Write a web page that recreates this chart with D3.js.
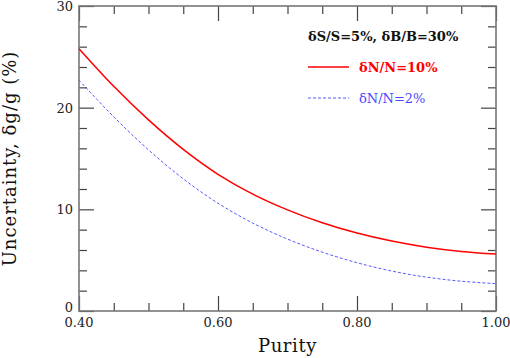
<!DOCTYPE html>
<html>
<head>
<meta charset="utf-8">
<script src="https://cdn.jsdelivr.net/npm/d3@7"></script>
<style>
  body { margin: 0; background: #fff; }
  svg { display: block; font-family: "DejaVu Serif", serif; }
</style>
</head>
<body>
<svg id="chart"></svg>
<script>
// purity values and the two uncertainty curves (percent)
const purity = [0.40, 0.45, 0.50, 0.55, 0.60, 0.65, 0.70, 0.75, 0.80, 0.85, 0.90, 0.95, 1.00];
const dN10 = [25.8, 22.1, 18.8, 15.9, 13.45, 11.5, 9.95, 8.68, 7.67, 6.88, 6.28, 5.86, 5.6];
const dN2 = [22.7, 19.1, 15.85, 13.0, 10.6, 8.65, 7.07, 5.79, 4.75, 3.93, 3.33, 2.93, 2.69];

const xMajor = [0.40, 0.60, 0.80, 1.00];
const xMinor = [0.45, 0.50, 0.55, 0.65, 0.70, 0.75, 0.85, 0.90, 0.95];
const yMajor = [0, 10, 20, 30];
const yMinor = [2, 4, 6, 8, 12, 14, 16, 18, 22, 24, 26, 28];

const width = 510, height = 358;
const margin = { top: 6, right: 14, bottom: 47, left: 79 };

const svg = d3.select("#chart").attr("width", width).attr("height", height);

const x = d3.scaleLinear().domain([0.4, 1.0]).range([margin.left, width - margin.right]);
const y = d3.scaleLinear().domain([0, 30]).range([height - margin.bottom, margin.top]);

const tickColor = "#444";

// ticks on all four sides, pointing inward
function ticks(axisFn, values, size, transform) {
  const g = svg.append("g")
    .attr("transform", transform)
    .call(axisFn.tickValues(values).tickSize(size).tickFormat(""));
  g.select(".domain").remove();
  g.selectAll("line").attr("stroke", tickColor).attr("stroke-width", 1.2);
}
const bottomY = y(0), topY = y(30), leftX = x(0.4), rightX = x(1.0);
ticks(d3.axisBottom(x), xMajor, -15, `translate(0,${bottomY})`);
ticks(d3.axisBottom(x), xMinor, -8, `translate(0,${bottomY})`);
ticks(d3.axisTop(x), xMajor, -15, `translate(0,${topY})`);
ticks(d3.axisTop(x), xMinor, -8, `translate(0,${topY})`);
ticks(d3.axisLeft(y), yMajor, -15, `translate(${leftX},0)`);
ticks(d3.axisLeft(y), yMinor, -8, `translate(${leftX},0)`);
ticks(d3.axisRight(y), yMajor, -15, `translate(${rightX},0)`);
ticks(d3.axisRight(y), yMinor, -8, `translate(${rightX},0)`);

// frame
svg.append("rect")
  .attr("x", leftX).attr("y", topY)
  .attr("width", rightX - leftX).attr("height", bottomY - topY)
  .attr("fill", "none").attr("stroke", "#777").attr("stroke-width", 1.6);

// tick labels
svg.append("g").selectAll("text").data(xMajor).join("text")
  .attr("x", d => x(d)).attr("y", bottomY + 15.5)
  .attr("text-anchor", "middle").attr("font-size", 13).attr("fill", "#222")
  .text(d => d3.format(".2f")(d));

svg.append("g").selectAll("text").data(yMajor).join("text")
  .attr("x", leftX - 6).attr("y", d => d === 0 ? y(d) + 1 : y(d) + 5)
  .attr("text-anchor", "end").attr("font-size", 13).attr("fill", "#222")
  .text(d => d);

// axis titles
svg.append("text")
  .attr("x", (leftX + rightX) / 2).attr("y", 352)
  .attr("text-anchor", "middle").attr("font-size", 18).attr("fill", "#111")
  .attr("letter-spacing", 0.6)
  .text("Purity");

svg.append("text")
  .attr("transform", `translate(16,${(topY + bottomY) / 2}) rotate(-90)`)
  .attr("text-anchor", "middle").attr("font-size", 18).attr("fill", "#111")
  .attr("letter-spacing", 1)
  .text("Uncertainty, δg/g (%)");

// curves
const line = d3.line()
  .x((d, i) => x(purity[i]))
  .y(d => y(d))
  .curve(d3.curveCatmullRom);

svg.append("path").datum(dN10)
  .attr("d", line).attr("fill", "none")
  .attr("stroke", "#ff0000").attr("stroke-width", 1.5);

svg.append("path").datum(dN2)
  .attr("d", line).attr("fill", "none")
  .attr("stroke", "#4646ff").attr("stroke-width", 0.9)
  .attr("stroke-dasharray", "3,2");

// legend
svg.append("text")
  .attr("x", 308).attr("y", 41).attr("font-size", 13).attr("font-weight", "bold")
  .attr("fill", "#111")
  .text("δS/S=5%, δB/B=30%");

svg.append("line")
  .attr("x1", 308).attr("x2", 349).attr("y1", 67).attr("y2", 67)
  .attr("stroke", "#ff0000").attr("stroke-width", 1.5);
svg.append("text")
  .attr("x", 359).attr("y", 72).attr("font-size", 13).attr("font-weight", "bold")
  .attr("fill", "#ff0000")
  .text("δN/N=10%");

svg.append("line")
  .attr("x1", 308).attr("x2", 349).attr("y1", 98).attr("y2", 98)
  .attr("stroke", "#4646ff").attr("stroke-width", 0.9)
  .attr("stroke-dasharray", "3,2");
svg.append("text")
  .attr("x", 359).attr("y", 103).attr("font-size", 13)
  .attr("fill", "#4646ff")
  .text("δN/N=2%");
</script>
</body>
</html>
